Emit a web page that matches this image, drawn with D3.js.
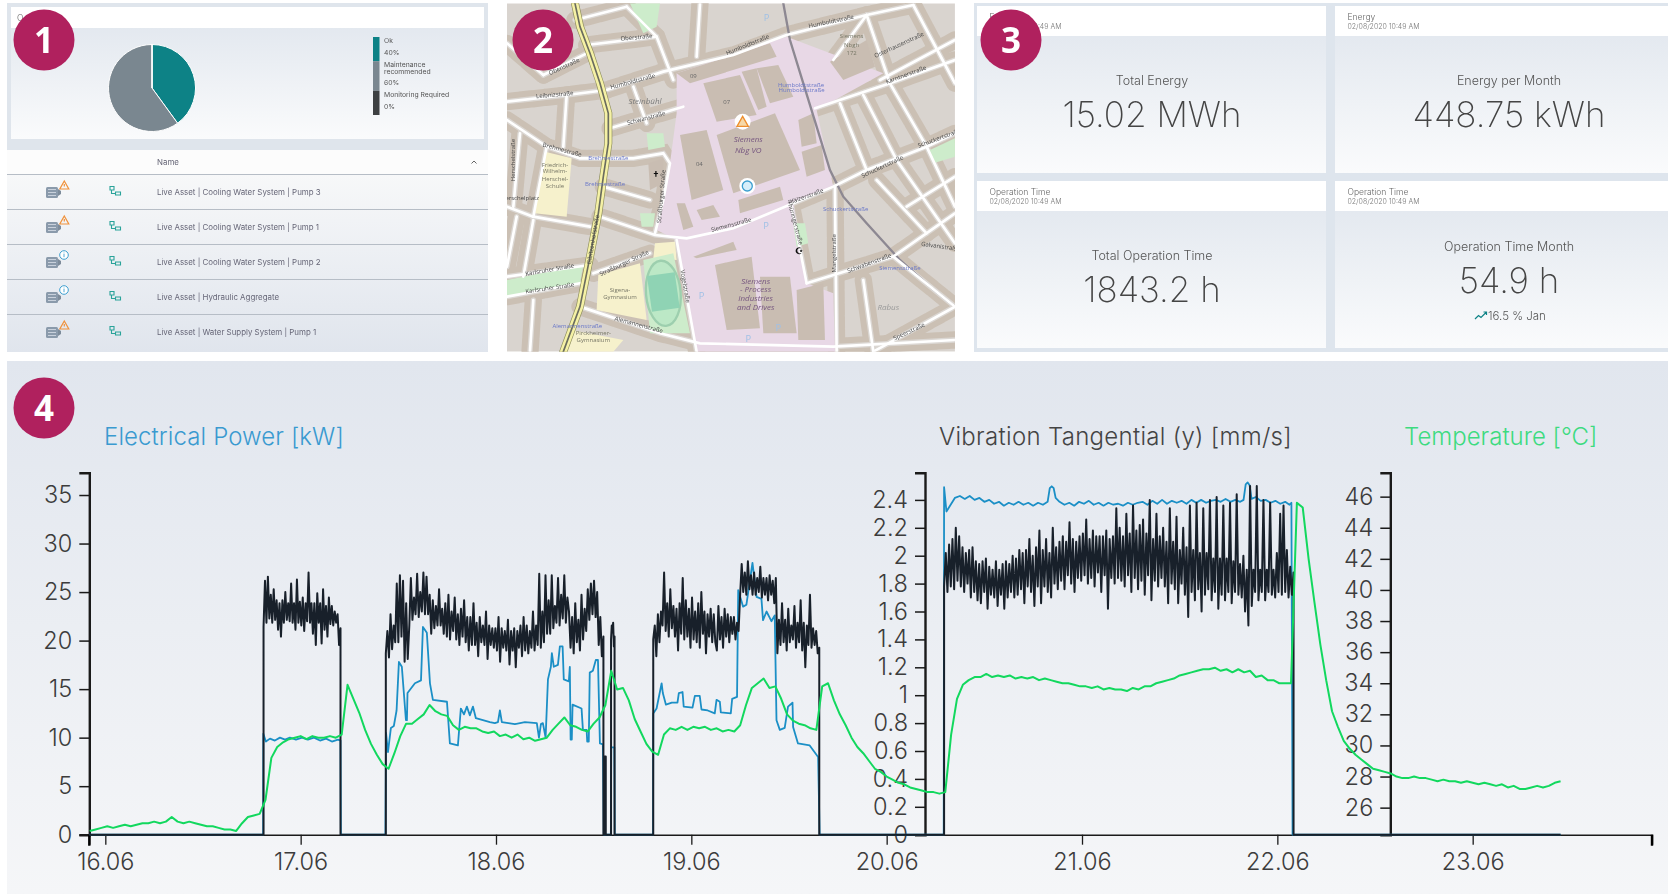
<!DOCTYPE html>
<meta charset="utf-8">
<style>
    body { margin: 0; background: #fff; }
    svg { display: block; font-family: Inter, sans-serif; }
    .axis text { font: 300 23.5px Inter, sans-serif; fill: #3c3c3c; }
    .axis path, .axis line { stroke: #1a1a1a; }
    .card-title { font-size: 12.5px; font-weight: 300; fill: #555; text-anchor: middle; }
    .card-value { font-size: 35px; font-weight: 200; fill: #444; text-anchor: middle; }
    .card-head { font-size: 8.5px; font-weight: 300; fill: #666; }
    .card-date { font-size: 7px; font-weight: 300; fill: #777; }
    .legend-label { font-size: 6.8px; fill: #555; }
    .row-label { font-size: 7.9px; fill: #667; }
    .badge text { font: 700 35px "Open Sans", sans-serif; fill: #fff; text-anchor: middle; }
</style>
<svg width="1668" height="896"></svg>
<script src="https://d3js.org/d3.v7.min.js"></script>
<script>

    // panel 1
    var stateNames = ["Ok", "Maintenance recommended", "Monitoring Required"];
    var stateShares = [40, 60, 0];
    var stateColors = ["#0e8286", "#7a8790", "#3c3f42"];
    var assetNames = ["Live Asset | Cooling Water System | Pump 3", "Live Asset | Cooling Water System | Pump 1",
        "Live Asset | Cooling Water System | Pump 2", "Live Asset | Hydraulic Aggregate",
        "Live Asset | Water Supply System | Pump 1"];
    var assetAlerts = ["warn", "warn", "info", "info", "warn"];

    // panel 3
    var kpiHeads = ["Energy", "Energy", "Operation Time", "Operation Time"];
    var kpiTitles = ["Total Energy", "Energy per Month", "Total Operation Time", "Operation Time Month"];
    var kpiValues = ["15.02 MWh", "448.75 kWh", "1843.2 h", "54.9 h"];

    // panel 4, x is the day of June
    var dayTicks = [16, 17, 18, 19, 20, 21, 22, 23];
    var powerTicks = [0, 5, 10, 15, 20, 25, 30, 35];
    var vibrationTicks = [0, 0.2, 0.4, 0.6, 0.8, 1, 1.2, 1.4, 1.6, 1.8, 2, 2.2, 2.4];
    var temperatureTicks = [26, 28, 30, 32, 34, 36, 38, 40, 42, 44, 46];

    var powerDays = [15.92, 16.808, 16.809, 16.822, 16.843, 16.868, 16.894, 16.92, 16.945, 16.976, 17.007, 17.037, 17.068, 17.099, 17.13, 17.16, 17.191, 17.204, 17.206,
        17.434, 17.437, 17.447, 17.462, 17.477, 17.491, 17.503, 17.518, 17.539, 17.544, 17.547, 17.585, 17.616, 17.626, 17.646, 17.662, 17.677, 17.749, 17.764, 17.805, 17.82, 17.836, 17.851, 17.866, 17.882, 17.897, 17.969, 17.994, 18.01, 18.02, 18.03, 18.097, 18.148, 18.209, 18.22, 18.23, 18.24, 18.254, 18.266, 18.281, 18.286, 18.296, 18.317, 18.327, 18.341, 18.347, 18.373, 18.378, 18.382, 18.388, 18.392, 18.438, 18.445, 18.464, 18.467, 18.475, 18.48, 18.496, 18.511, 18.522, 18.532, 18.547, 18.552,
        18.588, 18.59, 18.606, 18.608,
        18.804, 18.805, 18.822, 18.848, 18.854, 18.87, 18.9, 18.929, 18.936, 18.955, 18.961, 19.006, 19.018, 19.043, 19.052, 19.084, 19.12, 19.129, 19.146, 19.151, 19.202, 19.209, 19.234, 19.24, 19.265, 19.282, 19.313, 19.334, 19.359, 19.367, 19.385, 19.41, 19.427, 19.436, 19.453, 19.478, 19.495, 19.518, 19.521, 19.546, 19.606, 19.649, 19.657,
        20.292, 20.294, 20.306, 20.349,
        20.375, 20.4, 20.425, 20.45, 20.475, 20.5, 20.525, 20.55, 20.575, 20.6, 20.625, 20.65, 20.675, 20.7, 20.725, 20.75, 20.775, 20.8, 20.824,
        20.835, 20.845, 20.855, 20.865,
        20.885, 20.91, 20.935, 20.96, 20.985, 21.01, 21.035, 21.06, 21.085, 21.11, 21.135, 21.16, 21.185, 21.21, 21.235, 21.26, 21.285, 21.31, 21.335, 21.36, 21.385, 21.41, 21.435, 21.46, 21.485, 21.51, 21.535, 21.56, 21.585, 21.61, 21.635, 21.66, 21.685, 21.71, 21.735, 21.76, 21.785, 21.81, 21.827,
        21.838, 21.848, 21.858, 21.868,
        21.89, 21.915, 21.94, 21.965, 21.99, 22.015, 22.04, 22.062, 22.072, 22.078, 23.45];
    var powerValues = [0, 0, 10.4, 9.6, 9.9, 9.7, 10, 9.8, 10, 9.8, 10, 9.8, 10, 9.7, 9.9, 9.6, 9.8, 9.7, 0,
        0, 10.5, 8.5, 11, 11.2, 12.8, 17.8, 17.3, 11.8, 11.8, 14.6, 15.6, 15.9, 21.4, 20.8, 15.6, 13.9, 13.7, 9.4, 9.2, 13, 12.4, 13.2, 12.3, 13.2, 12, 11.6, 11.5, 11.6, 12.8, 11.6, 11.4, 11.6, 11.5, 10, 11.4, 11.5, 10, 16, 17.3, 18.7, 17.3, 17.5, 19.4, 19.4, 16, 15.8, 17.3, 9.8, 9.8, 13.4, 13, 10.8, 10.8, 9.6, 9.6, 16.7, 16.9, 18, 18, 9.4, 9.3, 0,
        0, 9, 9, 0,
        0, 12.5, 13, 15.6, 14.6, 13.4, 13.6, 13.6, 14.6, 14.7, 13.2, 13.1, 14.3, 14.3, 12.9, 12.8, 12.5, 13.9, 13.7, 12.6, 12.5, 14, 14.2, 25.2, 23.5, 23.7, 28, 24.5, 24.3, 22.1, 23, 22, 22.6, 11.8, 10.8, 11, 13.2, 13.6, 11.1, 9.4, 9.2, 8, 0,
        0, 35.8, 33.3, 34.7,
        34.9, 34.6, 34.9, 34.5, 34.7, 34.3, 34.5, 34.1, 34.3, 33.9, 34.2, 34, 34.3, 34, 34.2, 33.9, 34.2, 34, 34.3,
        35.7, 35.9, 35.7, 34.7,
        34.3, 34, 34.2, 33.9, 34.3, 34.1, 34.4, 34, 34.2, 33.9, 34.2, 34, 34.1, 33.9, 34.2, 34, 34.2, 34.3, 34, 34.4, 34.1, 34.5, 34.1, 34.4, 34.2, 34.4, 34.1, 34.5, 34.2, 34.5, 34.2, 34.4, 34.5, 34.3, 34.6, 34.3, 34.5, 34.3, 34.5,
        36.1, 36.3, 36, 34.6,
        34.8, 34.4, 34.5, 34.2, 34.4, 34.1, 34.3, 34, 34.2, 0, 0];

    // vibration bursts, evenly logged between their start and end day
    var burstSpans = [[16.81, 17.204], [17.436, 18.55], [18.553, 18.562], [18.589, 18.607], [18.805, 19.655], [20.294, 22.083]];
    var burst1 = [1.49, 1.82, 1.52, 1.85, 1.55, 1.72, 1.52, 1.76, 1.54, 1.68, 1.47, 1.66, 1.42, 1.68, 1.52, 1.74, 1.54, 1.66, 1.53, 1.8,
        1.52, 1.66, 1.47, 1.83, 1.52, 1.67, 1.5, 1.7, 1.46, 1.66, 1.53, 1.88, 1.52, 1.66, 1.44, 1.66, 1.36, 1.73, 1.52, 1.66,
        1.37, 1.76, 1.47, 1.64, 1.42, 1.7, 1.51, 1.64, 1.5, 1.6, 1.52, 1.58, 1.36, 1.48];
    var burst2 = [1.3, 1.46, 1.27, 1.58, 1.33, 1.5, 1.38, 1.8, 1.38, 1.86, 1.42, 1.82, 1.24, 1.66, 1.26,
        1.5, 1.84, 1.54, 1.7, 1.58, 1.87, 1.56, 1.74, 1.6, 1.88, 1.58, 1.85, 1.58, 1.72,
        1.44, 1.68, 1.48, 1.64, 1.5, 1.76, 1.5, 1.62, 1.44, 1.66, 1.42, 1.72, 1.4, 1.6, 1.46, 1.7, 1.4, 1.58, 1.36, 1.62, 1.42, 1.68, 1.38, 1.56,
        1.32, 1.56, 1.36, 1.66, 1.36, 1.52, 1.28, 1.56, 1.38, 1.5, 1.36, 1.6, 1.26, 1.5, 1.36, 1.48,
        1.34, 1.48, 1.32, 1.56, 1.24, 1.48, 1.34, 1.46, 1.32, 1.54, 1.22, 1.46, 1.32, 1.48, 1.2, 1.46, 1.34, 1.5, 1.28, 1.56, 1.32, 1.5, 1.3, 1.46, 1.34, 1.6,
        1.32, 1.5, 1.36, 1.87, 1.34, 1.6, 1.38, 1.86, 1.44, 1.68, 1.44, 1.86, 1.48, 1.64, 1.52, 1.84, 1.5, 1.72, 1.55, 1.86, 1.52, 1.7, 1.6,
        1.34, 1.56, 1.3, 1.66, 1.38, 1.54, 1.32, 1.72, 1.4, 1.62, 1.46, 1.76, 1.54, 1.8, 1.58, 1.82, 1.56, 1.74, 1.36, 1.56, 1.28, 1.42];
    var burst3 = [0.56, 0.56];
    var burst4 = [1.4, 1.5, 1.45, 1.52, 1.35, 1.42];
    var burst5 = [1.4, 1.5, 1.28, 1.58, 1.38, 1.6, 1.5, 1.88, 1.46, 1.66, 1.42, 1.76, 1.48, 1.64,
        1.42, 1.62, 1.32, 1.66, 1.44, 1.84, 1.4, 1.68, 1.42, 1.62, 1.34, 1.7, 1.4, 1.6, 1.38, 1.66, 1.34, 1.74, 1.44, 1.6, 1.3, 1.58, 1.42, 1.62, 1.38, 1.58, 1.38,
        1.32, 1.64, 1.4, 1.56, 1.34, 1.62, 1.42, 1.58, 1.38, 1.56, 1.44, 1.56, 1.4, 1.52, 1.46,
        1.72, 1.94, 1.74, 1.88, 1.72, 1.96, 1.76, 1.86, 1.72, 1.88, 1.72, 1.84, 1.74, 1.92, 1.7, 1.84, 1.72, 1.84, 1.68, 1.86, 1.72, 1.82, 1.66, 1.84,
        1.3, 1.54, 1.36, 1.66, 1.38, 1.54, 1.32, 1.62, 1.38, 1.5, 1.4, 1.64, 1.34, 1.52, 1.38, 1.68, 1.32, 1.52, 1.2, 1.5, 1.36, 1.72, 1.34, 1.48, 1.36, 1.46, 1.3, 1.34];
    var burst6 = [1.78, 2.02, 1.74, 2.08, 1.78, 2.12, 1.76, 2.2, 1.82, 2.14, 1.78, 2.06, 1.74, 2.02, 1.8, 2.04, 1.7, 2.06, 1.74, 1.96, 1.68, 1.94,
        1.66, 1.96, 1.74, 1.98, 1.62, 1.92, 1.72, 1.9, 1.7, 1.96, 1.64, 1.9, 1.72, 1.94, 1.62, 1.96, 1.7, 1.94, 1.74, 2, 1.7, 1.98, 1.72, 2.04,
        1.76, 2.02, 1.66, 2.04, 1.78, 2.12, 1.74, 2, 1.64, 2.06, 1.78, 2.18, 1.66, 2.04, 1.78, 2.12, 1.74, 2.02, 1.7, 2.2, 1.8, 2.06, 1.76, 2.1,
        1.82, 2.14, 1.76, 2.1, 1.86, 2.24, 1.8, 2.12, 1.74, 2.1, 1.84, 2.14, 1.82, 2.16, 1.86, 2.26, 1.8, 2.12, 1.84, 2.18, 1.78, 2.14, 1.88, 2.14,
        1.74, 2.14, 1.86, 2.18, 1.62, 2.12, 1.84, 2.14, 1.8, 2.34, 1.84, 2.2, 1.82, 2.14, 1.78, 2.3, 1.86, 2.16, 1.74, 2.36, 1.84, 2.18, 1.76, 2.22,
        1.82, 2.26, 1.72, 2.16, 1.86, 2.4, 1.68, 2.12, 1.82, 2.3, 1.78, 2.14, 1.84, 2.2, 1.78, 2.1, 1.66, 2.34, 1.8, 2.1, 1.76, 2.28, 1.66, 2.04,
        1.8, 2.2, 1.72, 2.06, 1.56, 2.36, 1.74, 2.04, 1.68, 2.38, 1.76, 2.02, 1.6, 2.34, 1.72, 2.02, 1.76, 2.4, 1.68, 1.98, 1.74, 2.42, 1.62, 1.98,
        1.72, 2.36, 1.68, 1.98, 1.74, 2.38, 1.66, 1.96, 1.74, 2.44, 1.72, 1.94, 1.7, 2, 1.6, 1.9, 1.5, 2.5, 1.64, 1.9, 1.74, 2.5, 1.68, 1.9,
        1.74, 2.4, 1.68, 1.9, 1.74, 2.38, 1.72, 1.9, 1.7, 2.02, 1.74, 2.3, 1.72, 2.36, 1.74, 2.04, 1.7, 1.92, 1.72, 1.88];
    var vibrationBursts = [burst1, burst2, burst3, burst4, burst5, burst6];

    // temperature logged every 0.03 day from 15.92
    var temperatureStart = 15.92, temperatureStep = 0.03;
    var temperatureValues = [24.5, 24.6, 24.7, 24.8, 24.7, 24.8, 24.9, 24.8, 24.9, 25, 25, 25.1, 25, 25.1, 25.4, 25.1, 25, 25.1, 25, 24.9,
        24.8, 24.8, 24.7, 24.6, 24.6, 24.5, 25, 25.4, 25.5, 25.6, 26.5, 29.2, 29.9, 30.2, 30.4, 30.5, 30.6, 30.4, 30.6, 30.5,
        30.5, 30.6, 30.5, 30.7, 33.9, 33, 32.1, 31, 30.1, 29.4, 28.8, 28.5, 29.5, 30.6, 31.4, 31.4, 31.7, 32, 32.6, 32.2,
        32, 31.9, 31.3, 31, 31.2, 31.1, 31.1, 30.9, 30.8, 30.9, 30.6, 30.7, 30.5, 30.7, 30.4, 30.5, 30.3, 30.4, 30.5, 31,
        31.4, 31.8, 31.3, 31.2, 31, 30.9, 31.4, 31.8, 32.6, 34.8, 33.6, 33.7, 32.9, 31.7, 30.9, 30.1, 29.6, 29.4, 30.7, 31.1,
        31, 31.2, 31, 31.2, 31.1, 31.2, 31, 31.1, 30.9, 31, 30.9, 31.3, 32.6, 33.7, 34, 34.3, 33.7, 33.8, 33, 32,
        31.6, 31.4, 31.3, 31.1, 31, 33.8, 34, 32.9, 32, 31.3, 30.5, 29.9, 29.5, 29, 28.5, 28.3, 28, 27.8, 27.6, 27.5,
        27.3, 27.2, 27.1, 27, 27, 26.9, 27, 30.7, 33, 33.9, 34.2, 34.4, 34.4, 34.6, 34.4, 34.5, 34.4, 34.5, 34.3, 34.4,
        34.3, 34.4, 34.2, 34.3, 34.2, 34.1, 34, 34, 33.9, 33.8, 33.8, 33.7, 33.8, 33.6, 33.7, 33.6, 33.6, 33.5, 33.7, 33.6,
        33.8, 33.8, 34, 34.1, 34.2, 34.3, 34.5, 34.6, 34.7, 34.8, 34.9, 34.9, 35, 34.8, 34.9, 34.7, 34.9, 34.7, 34.8, 34.4,
        34.5, 34.2, 34.2, 34, 34, 34, 45.6, 45.3, 42, 39.2, 36.5, 34.2, 32.2, 31.2, 30.3, 29.8, 29.4, 29.1, 28.8, 28.5,
        28.4, 28.3, 28.2, 28, 27.9, 27.9, 28, 27.9, 27.9, 27.8, 27.7, 27.8, 27.7, 27.7, 27.6, 27.7, 27.6, 27.5, 27.6, 27.5,
        27.4, 27.5, 27.3, 27.4, 27.2, 27.2, 27.3, 27.4, 27.3, 27.4, 27.6, 27.7];

    // map of panel 2, drawn in a 3x frame
    var mapStreets = [
        [[21, 305], [200, 285], [320, 270], [490, 215], [700, 165], [860, 105], [1100, 45], [1240, 15]],
        [[260, 135], [470, 110]],
        [[130, 225], [260, 160]],
        [[21, 130], [130, 225]],
        [[225, 60], [380, 20]],
        [[380, 20], [470, 110], [520, 240]],
        [[600, 10], [590, 170]],
        [[330, 385], [550, 320]],
        [[21, 360], [140, 440], [240, 475], [400, 475], [490, 460], [510, 490], [490, 600], [465, 700]],
        [[300, 650], [465, 705], [560, 715], [700, 685], [880, 610], [1000, 560], [1100, 510], [1280, 440], [1365, 400]],
        [[21, 830], [270, 795]],
        [[21, 890], [240, 850]],
        [[280, 820], [450, 760]],
        [[530, 720], [590, 1055]],
        [[240, 920], [480, 1000], [600, 1030], [1000, 1040], [1365, 1020]],
        [[1005, 560], [1010, 1055]],
        [[945, 325], [1170, 250], [1365, 180]],
        [[920, 850], [1180, 770], [1365, 640]],
        [[1100, 45], [1170, 250], [1280, 440], [1365, 620]],
        [[1240, 15], [1365, 250]],
        [[1020, 310], [1100, 510]],
        [[1090, 285], [1190, 480], [1365, 730]],
        [[140, 440], [100, 650], [270, 680]],
        [[1120, 1055], [1365, 920]],
        [[1090, 840], [1120, 1055]],
        [[200, 285], [190, 440]],
        [[400, 260], [440, 370]],
        [[21, 620], [100, 650]],
        [[100, 660], [70, 830]],
        [[875, 620], [920, 850]],
        [[1180, 770], [1365, 920]],
        [[1130, 540], [1280, 700]],
        [[1220, 620], [1365, 530]],
        [[1140, 240], [1365, 120]],
        [[1000, 180], [1100, 45]],
        [[60, 400], [40, 620]],
        [[310, 560], [450, 600]],
        [[50, 650], [21, 800]],
        [[100, 900], [90, 1055]]
    ];
    var mapRail = [[850, 10], [870, 120], [910, 250], [950, 380], [990, 510], [1030, 590], [1100, 670], [1200, 780], [1290, 860], [1365, 920]];
    var mapMainRoad = [[225, 10], [240, 80], [270, 160], [300, 250], [325, 340], [325, 430], [310, 530], [295, 640], [270, 770], [240, 920], [190, 1055]];
    var mapBuildings = [
        [[530, 220], [810, 130], [830, 170], [570, 250]],
        [[610, 250], [720, 225], [770, 345], [650, 365]],
        [[725, 215], [770, 205], [800, 320], [775, 330]],
        [[770, 205], [835, 195], [880, 290], [810, 310]],
        [[650, 405], [825, 340], [900, 510], [700, 580]],
        [[540, 405], [620, 390], [670, 570], [575, 600]],
        [[715, 600], [840, 560], [850, 600], [720, 640]],
        [[990, 185], [1100, 120], [1125, 200], [1030, 240]],
        [[645, 795], [755, 770], [780, 985], [680, 990]],
        [[780, 830], [870, 830], [890, 1000], [790, 1000]],
        [[890, 870], [970, 850], [975, 1020], [895, 1020]],
        [[580, 770], [700, 725], [710, 750], [590, 775]],
        [[905, 455], [965, 435], [975, 510], [920, 530]],
        [[895, 360], [940, 340], [950, 430], [905, 440]],
        [[530, 610], [555, 610], [580, 680], [550, 690]],
        [[590, 630], [640, 615], [660, 650], [605, 660]],
        [[445, 490], [490, 475], [490, 550], [450, 570]]
    ];
    var mapPink = [[530, 220], [860, 110], [1150, 220], [950, 330], [1000, 560], [880, 610], [920, 850], [1000, 880], [1005, 1055], [590, 1055], [530, 720], [470, 690], [510, 490], [530, 340]];
    var mapGreens = [
        [[390, 10], [480, 10], [470, 80], [430, 100]],
        [[21, 840], [250, 795], [240, 850], [21, 890]],
        [[1290, 450], [1365, 415], [1365, 470], [1300, 490]],
        [[420, 640], [465, 640], [460, 680], [425, 680]],
        [[440, 400], [490, 400], [495, 440], [445, 450]],
        [[880, 670], [915, 670], [925, 730], [890, 740]],
        [[430, 780], [520, 760], [570, 1000], [450, 1000]]
    ];
    var mapSchools = [
        [[135, 455], [215, 475], [200, 650], [105, 640]],
        [[295, 825], [420, 790], [440, 960], [290, 930]],
        [[465, 730], [525, 725], [530, 780], [460, 775]],
        [[215, 990], [370, 1020], [340, 1055], [190, 1055]]
    ];
    var mapLabels = [
        ["Humboldtstraße", 745, 140, -22, "#444"], ["Humboldtstraße", 995, 70, -12, "#444"], ["Humboldtstraße", 400, 250, -15, "#444"],
        ["Oberstraße", 410, 118, -5, "#444"], ["Obenstraße", 195, 205, -25, "#444"], ["Leibnizstraße", 165, 290, -5, "#444"],
        ["Schwanstraße", 440, 360, -15, "#444"], ["Brehmestraße", 185, 455, 15, "#444"], ["Brehmestraße", 325, 480, 0, "#6a78c8"],
        ["Brehmestraße", 315, 557, 0, "#6a78c8"], ["04", 598, 497, 0, "#666"], ["07", 680, 313, 0, "#666"], ["09", 580, 233, 0, "#666"],
        ["Siemens", 1055, 115, 0, "#776"], ["Nbgh", 1055, 140, 0, "#776"], ["172", 1055, 165, 0, "#776"],
        ["Humboldtstraße", 903, 260, 0, "#6a78c8"], ["Humboldtstraße", 905, 277, 0, "#6a78c8"],
        ["Friedrich-", 165, 500, 0, "#776"], ["Wilhelm-", 165, 520, 0, "#776"], ["Herschel-", 165, 542, 0, "#776"], ["Schule", 165, 565, 0, "#776"],
        ["Pfälzerstraße", 920, 595, -20, "#444"], ["Siemensstraße", 695, 680, -15, "#444"], ["Schuckertstraße", 1037, 632, 0, "#6a78c8"],
        ["Siemensstraße", 1200, 810, 0, "#6a78c8"], ["Sigena-", 360, 875, 0, "#776"], ["Gymnasium", 360, 897, 0, "#776"],
        ["Karlsruher Straße", 150, 815, -10, "#444"], ["Karlsruher Straße", 150, 870, -8, "#444"], ["Straßburger Straße", 375, 795, -25, "#444"],
        ["Straßburger Straße", 490, 590, -85, "#444"], ["Alemannenstraße", 232, 985, 0, "#6a78c8"], ["Pirckheimer-", 280, 1005, 0, "#776"],
        ["Gymnasium", 280, 1027, 0, "#776"], ["Alemannenstraße", 415, 980, 15, "#444"], ["Vogelstraße", 550, 860, 80, "#444"],
        ["Gibitzenhofstraße", 285, 720, -80, "#444"], ["Mangelstraße", 1008, 760, -90, "#444"], ["Schwabenstraße", 1110, 795, -20, "#444"],
        ["Galvanistraße", 1320, 745, 8, "#444"], ["Speerstraße", 1230, 1000, -25, "#444"], ["Kärntnerstraße", 1220, 230, -20, "#444"],
        ["Osterhausenstraße", 1200, 140, -25, "#444"], ["Schuckertstraße", 1150, 505, -25, "#444"], ["Schuckertstraße", 1320, 420, -20, "#444"],
        ["Herschelstraße", 45, 480, -90, "#444"], ["Herschelplatz", 60, 600, 0, "#444"], ["Thüringerstraße", 880, 670, 75, "#444"]
    ];
    var mapBigLabels = [["Steinbühl", 435, 313, "#7c7c7c"], ["Siemens", 745, 426, "#75557f"], ["Nbg VO", 745, 460, "#75557f"], ["Siemens", 767, 851, "#75557f"],
        ["- Process", 767, 876, "#75557f"], ["Industries", 767, 903, "#75557f"], ["and Drives", 767, 929, "#75557f"], ["Rabus", 1165, 930, "#9a9a9a"]];
    var mapParking = [[800, 62], [605, 898], [798, 686], [835, 992], [745, 1026]];

    var badges = [["1", 44, 40], ["2", 543, 40], ["3", 1011, 40], ["4", 44, 408]];

    var svg = d3.select("svg"),
        defs = svg.append("defs");

    function fade(id, first, last) {
        var g = defs.append("linearGradient").attr("id", id).attr("x1", 0).attr("y1", 0).attr("x2", 0).attr("y2", 1);
        g.append("stop").attr("offset", 0).attr("stop-color", first);
        g.append("stop").attr("offset", 1).attr("stop-color", last);
    }
    fade("cardFade", "#dfe5ed", "#fafbfc");
    fade("tableFade", "#f7f8f9", "#e0e5ed");
    fade("chartFade", "#e1e6ee", "#f5f6f8");
    // the top panels are soft in the reference
    defs.append("filter").attr("id", "soft").append("feGaussianBlur").attr("stdDeviation", 0.45);

    function box(parent, x, y, w, h, fill) {
        return parent.append("rect").attr("x", x).attr("y", y).attr("width", w).attr("height", h).attr("fill", fill);
    }

    // ---- panel 1 ----
    var p1 = svg.append("g").attr("filter", "url(#soft)");
    box(p1, 7, 3, 481, 147, "#dfe5ec");
    box(p1, 11, 7, 473, 132, "url(#cardFade)");
    box(p1, 11, 7, 473, 21, "#fff");
    p1.append("text").attr("x", 17).attr("y", 21).attr("class", "card-head").text("O");

    var pie = d3.pie().sort(null).value(function(d) { return d; });
    var arc = d3.arc().innerRadius(0).outerRadius(43.5);
    p1.append("g").attr("transform", "translate(152,88)")
        .selectAll("path").data(pie(stateShares)).enter().append("path")
        .attr("d", arc)
        .attr("fill", function(d, i) { return stateColors[i]; })
        .attr("stroke", "#fff").attr("stroke-width", 1);

    var legendY = d3.scaleLinear().domain([0, 1]).range([37, 115]);
    var legendStops = [0, 0.31, 0.69, 1];
    stateColors.forEach(function(c, i) {
        box(p1, 373, legendY(legendStops[i]), 6.5, legendY(legendStops[i + 1]) - legendY(legendStops[i]), c);
    });
    [["Ok", 43], ["40%", 54.5], ["Maintenance", 66.5], ["recommended", 73.5], ["60%", 85], ["Monitoring Required", 97], ["0%", 108.5]].forEach(function(l) {
        p1.append("text").attr("class", "legend-label").attr("x", 384).attr("y", l[1]).text(l[0]);
    });

    box(p1, 7, 150, 481, 24, "#fcfcfc");
    box(p1, 7, 174, 481, 178, "url(#tableFade)");
    p1.append("text").attr("class", "row-label").attr("x", 157).attr("y", 165).text("Name");
    p1.append("path").attr("d", "M471.5 163.5l2.5-2.5l2.5 2.5").attr("fill", "none").attr("stroke", "#666");

    var row = p1.selectAll(".asset").data(assetNames).enter().append("g")
        .attr("class", "asset")
        .attr("transform", function(d, i) { return "translate(0," + (i * 35) + ")"; });
    row.append("line").attr("x1", 7).attr("x2", 488).attr("y1", 174.5).attr("y2", 174.5).attr("stroke", "#b6bdc6").attr("stroke-width", 1.2);
    row.append("text").attr("class", "row-label").attr("x", 157).attr("y", 195).text(function(d) { return d; });
    // motor symbol
    row.append("rect").attr("x", 46).attr("y", 187).attr("width", 12).attr("height", 11).attr("rx", 1.5).attr("fill", "#8a9aab");
    row.append("path").attr("d", "M48 189.5h8M48 192.5h8M48 195.5h8").attr("stroke", "#d9e0e8").attr("stroke-width", 0.8);
    row.append("path").attr("d", "M58 189l3 2v3l-3 2z").attr("fill", "#7d8b9a");
    // alert symbol
    row.filter(function(d, i) { return assetAlerts[i] == "warn"; }).append("path")
        .attr("d", "M64.3 181l4.5 8h-9zM64.3 184v2.5").attr("fill", "none").attr("stroke", "#f0913a").attr("stroke-width", 1.2);
    var infoMark = row.filter(function(d, i) { return assetAlerts[i] == "info"; });
    infoMark.append("circle")
        .attr("cx", 64).attr("cy", 185).attr("r", 4.3).attr("fill", "#fff").attr("stroke", "#3d9fd0").attr("stroke-width", 1);
    infoMark.append("path").attr("d", "M64 184v3.2M64 182.6v.8").attr("stroke", "#3d9fd0").attr("stroke-width", 0.9);
    // tree symbol
    row.append("path").attr("d", "M110 186.5h4v3.5h-4zM115.5 192h5v3h-5zM111.5 190v3.5h4")
        .attr("fill", "none").attr("stroke", "#2aa39a").attr("stroke-width", 1.1);

    // ---- panel 2 ----
    defs.append("clipPath").attr("id", "mapClip").append("rect").attr("x", 21).attr("y", 10).attr("width", 1344).attr("height", 1045);
    var poly = d3.line();
    var map = svg.append("g").attr("filter", "url(#soft)").attr("transform", "translate(500,0) scale(0.3333)").append("g").attr("clip-path", "url(#mapClip)");
    box(map, 21, 10, 1344, 1045, "#d9d4cf");
    function areas(list, fill) {
        map.append("g").selectAll("path").data(list).enter().append("path")
            .attr("d", function(d) { return poly(d) + "Z"; }).attr("fill", fill);
    }
    function strokes(list, color, width, dash) {
        map.append("g").selectAll("path").data(list).enter().append("path")
            .attr("d", poly).attr("fill", "none").attr("stroke", color).attr("stroke-width", width)
            .attr("stroke-dasharray", dash || null).attr("stroke-linecap", "round");
    }
    strokes(mapStreets, "#cbc0b4", 52, "34 5");
    strokes(mapStreets, "#dbd7d3", 16);
    areas(mapSchools, "#f6f1cc");
    areas([mapPink], "#e8d8e6");
    areas(mapGreens, "#cdeccb");
    areas(mapBuildings, "#c9bdb2");
    strokes([mapRail], "#8d8892", 7);
    strokes(mapStreets, "#fff", 8);
    strokes([mapMainRoad], "#8f8f5f", 24);
    strokes([mapMainRoad], "#f5f1a5", 20);
    strokes([mapMainRoad], "#6b6c5e", 5);

    map.append("ellipse").attr("cx", 490).attr("cy", 880).attr("rx", 52).attr("ry", 98).attr("transform", "rotate(-5 490 880)")
        .attr("fill", "#bce8c6").attr("stroke", "#9dcfae").attr("stroke-width", 7);
    box(map, 448, 822, 84, 108, "#8fd3b4").attr("transform", "rotate(-8 490 876)");
    map.append("text").attr("x", 468).attr("y", 536).attr("text-anchor", "middle").attr("font-size", 30).attr("font-weight", 700).attr("fill", "#111").text("†");
    map.append("text").attr("x", 897).attr("y", 762).attr("text-anchor", "middle").attr("font-size", 26).attr("font-weight", 700).attr("fill", "#111").text("☪");

    map.append("g").selectAll("text").data(mapLabels).enter().append("text")
        .attr("text-anchor", "middle").attr("font-size", 18).attr("font-family", "Open Sans")
        .attr("transform", function(d) { return "translate(" + d[1] + "," + d[2] + ") rotate(" + d[3] + ")"; })
        .attr("fill", function(d) { return d[4]; })
        .text(function(d) { return d[0]; });
    map.append("g").selectAll("text").data(mapBigLabels).enter().append("text")
        .attr("text-anchor", "middle").attr("font-size", 24).attr("font-style", "italic").attr("font-family", "Open Sans")
        .attr("x", function(d) { return d[1]; }).attr("y", function(d) { return d[2]; })
        .attr("fill", function(d) { return d[3]; })
        .text(function(d) { return d[0]; });
    map.append("g").selectAll("text").data(mapParking).enter().append("text")
        .attr("text-anchor", "middle").attr("font-size", 28).attr("fill", "#9fc0e6").attr("font-family", "Open Sans")
        .attr("x", function(d) { return d[0]; }).attr("y", function(d) { return d[1]; }).text("P");

    map.append("circle").attr("cx", 728).attr("cy", 365).attr("r", 24).attr("fill", "#fff");
    map.append("path").attr("d", "M728 349l17 30h-34z").attr("fill", "#f6d9a8").attr("stroke", "#ee8f2f").attr("stroke-width", 4);
    map.append("circle").attr("cx", 742).attr("cy", 558).attr("r", 24).attr("fill", "#fff");
    map.append("circle").attr("cx", 742).attr("cy", 558).attr("r", 15).attr("fill", "#d6eefa").attr("stroke", "#3d9fd0").attr("stroke-width", 4);

    // ---- panel 3 ----
    var p3 = svg.append("g").attr("filter", "url(#soft)");
    box(p3, 974, 3, 694, 349, "#dee5ed");
    var cardX = [977, 1335, 977, 1335], cardY = [6, 6, 181, 181], cardW = [349, 333, 349, 333];
    var titleY = [85, 85, 260, 251], valueY = [127, 127, 302, 293];
    kpiTitles.forEach(function(t, i) {
        box(p3, cardX[i], cardY[i], cardW[i], 167, "url(#cardFade)");
        box(p3, cardX[i], cardY[i], cardW[i], 30, "#fff");
        p3.append("text").attr("class", "card-head").attr("x", cardX[i] + 12.5).attr("y", cardY[i] + 14).text(kpiHeads[i]);
        p3.append("text").attr("class", "card-date").attr("x", cardX[i] + 12.5).attr("y", cardY[i] + 23).text("02/08/2020 10:49 AM");
        var cx = i % 2 ? 1509 : 1152;
        p3.append("text").attr("class", "card-title").attr("x", cx).attr("y", titleY[i]).text(t);
        p3.append("text").attr("class", "card-value").attr("x", cx).attr("y", valueY[i]).text(kpiValues[i]);
    });
    p3.append("path").attr("d", "M1475 319l3.5-3.5l2.5 2l5-5M1483.5 312h3v3").attr("fill", "none").attr("stroke", "#0e8286").attr("stroke-width", 1.2);
    p3.append("text").attr("x", 1488).attr("y", 319.5).attr("font-size", 11.5).attr("font-weight", 300).attr("fill", "#555").text("16.5 % Jan");

    // ---- panel 4 ----
    var chartTop = 472.7, chartBottom = 834.7;
    box(svg, 7, 361, 1661, 533, "url(#chartFade)");

    var x = d3.scaleLinear().domain([15.918, 23.918]).range([89.3, 1652]);
    var yPower = d3.scaleLinear().domain([0, 37.3]).range([chartBottom, chartTop]);
    var yVibration = d3.scaleLinear().domain([0, 2.595]).range([chartBottom, chartTop]);
    var yTemperature = d3.scaleLinear().domain([24.26, 47.54]).range([chartBottom, chartTop]);

    function leftAxis(scale, ticks, at) {
        var g = svg.append("g").attr("class", "axis").attr("transform", "translate(" + at + ",0)")
            .call(d3.axisLeft(scale).tickValues(ticks).tickFormat(String).tickSize(10).tickSizeOuter(10).tickPadding(7));
        g.select(".domain").attr("stroke-width", 2.4).attr("stroke", "#000");
        g.selectAll(".tick line").attr("stroke-width", 1.5);
        return g;
    }
    leftAxis(yPower, powerTicks, 89.3);
    leftAxis(yVibration, vibrationTicks, 925);
    leftAxis(yTemperature, temperatureTicks, 1390.3);

    var xAxis = svg.append("g").attr("class", "axis").attr("transform", "translate(0," + chartBottom + ")")
        .call(d3.axisBottom(x).tickValues(dayTicks).tickFormat(function(d) { return d + ".06"; }).tickSize(10).tickSizeOuter(10).tickPadding(9));
    xAxis.select(".domain").attr("stroke-width", 1.5).attr("stroke", "#444");
    xAxis.selectAll(".tick line").attr("stroke-width", 1.3).attr("stroke", "#333");
    svg.append("path").attr("d", "M89.3 " + chartBottom + "v11M1652 " + chartBottom + "v11").attr("stroke", "#000").attr("stroke-width", 2.4);

    var titles = [["Electrical Power [kW]", 104, "#3a9ad0", 0.1], ["Vibration Tangential (y) [mm/s]", 939, "#444", 0.3], ["Temperature [°C]", 1404, "#3ddb80", 0]];
    svg.selectAll(".title").data(titles).enter().append("text")
        .attr("class", "title")
        .attr("x", function(d) { return d[1]; }).attr("y", 445)
        .attr("font-size", 24).attr("font-weight", 300)
        .attr("letter-spacing", function(d) { return d[3]; })
        .attr("fill", function(d) { return d[2]; })
        .text(function(d) { return d[0]; });

    // build the three series
    var powerLine = powerDays.map(function(d, i) { return [d, powerValues[i]]; });
    var vibrationLine = [[15.92, 0]];
    vibrationBursts.forEach(function(burst, b) {
        var span = burstSpans[b];
        vibrationLine.push([span[0], 0]);
        burst.forEach(function(v, i) {
            vibrationLine.push([span[0] + (span[1] - span[0]) * i / (burst.length - 1), v]);
        });
        vibrationLine.push([span[1], 0]);
    });
    vibrationLine.push([23.45, 0]);
    var temperatureLine = temperatureValues.map(function(v, i) { return [temperatureStart + i * temperatureStep, v]; });

    function plot(points, scale, color, width) {
        svg.append("path").datum(points)
            .attr("fill", "none").attr("stroke", color).attr("stroke-width", width).attr("stroke-linejoin", "round")
            .attr("d", d3.line().x(function(d) { return x(d[0]); }).y(function(d) { return scale(d[1]); }));
    }
    plot(powerLine, yPower, "#1b8fc6", 1.8);
    plot(vibrationLine, yVibration, "#18202a", 2);
    plot(temperatureLine, yTemperature, "#12d85e", 2);

    // ---- number badges ----
    var badge = svg.selectAll(".badge").data(badges).enter().append("g")
        .attr("class", "badge")
        .attr("transform", function(d) { return "translate(" + d[1] + "," + d[2] + ")"; });
    badge.append("circle").attr("r", 30.5).attr("fill", "#b0215e");
    badge.append("text").attr("y", 12.5).text(function(d) { return d[0]; });

</script>
